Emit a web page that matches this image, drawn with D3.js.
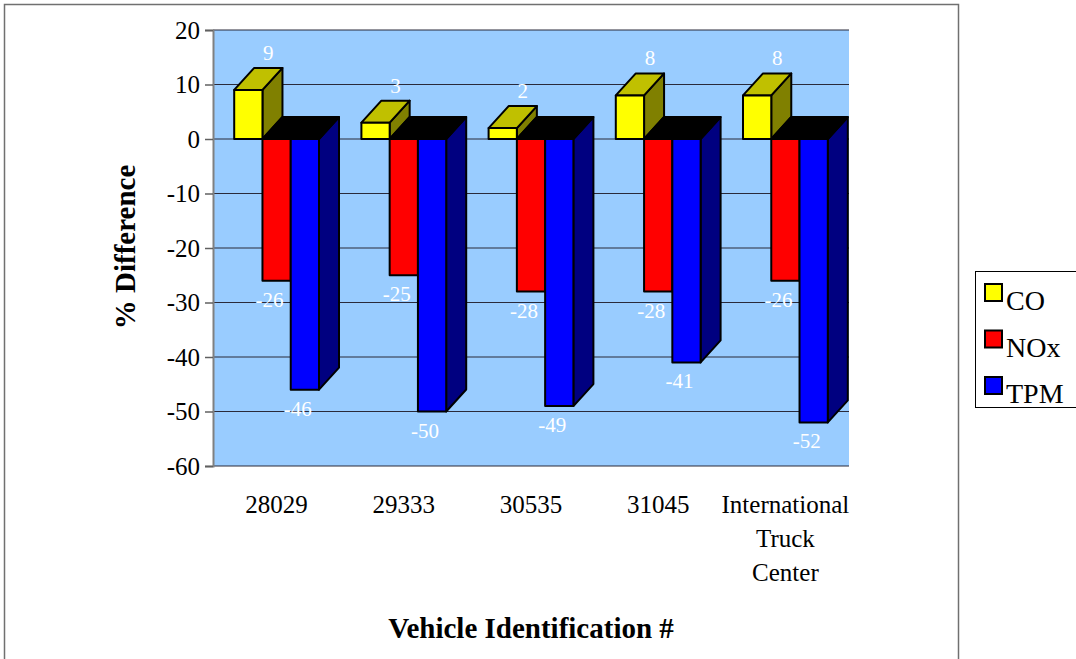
<!DOCTYPE html>
<html>
<head>
<meta charset="utf-8">
<script src="https://cdn.jsdelivr.net/npm/d3@7"></script>
<style>
  html, body { margin: 0; padding: 0; background: #fff; }
  svg { display: block; }
  svg text { font-family: "Liberation Serif", "Times New Roman", serif; }
</style>
</head>
<body>
<svg id="chart" width="1076" height="659"></svg>
<script>
// Emission change per vehicle, % difference
const categories = ["28029", "29333", "30535", "31045", "International Truck Center"];
const seriesNames = ["CO", "NOx", "TPM"];
const coValues = [9, 3, 2, 8, 8];
const noxValues = [-26, -25, -28, -28, -26];
const tpmValues = [-46, -50, -49, -41, -52];
const yTicks = [20, 10, 0, -10, -20, -30, -40, -50, -60];

const seriesValues = [coValues, noxValues, tpmValues];
const faceColors = [
  { front: "#ffff00", top: "#c0c000", side: "#808000" },
  { front: "#ff0000", top: "#000000", side: "#800000" },
  { front: "#0000ff", top: "#000000", side: "#000080" }
];
const serif = '"Liberation Serif", "Times New Roman", serif';

const svg = d3.select("#chart");

// plot geometry
const plot = { left: 213, right: 849, top: 30, bottom: 466 };
const depthX = 20, depthY = 22;

const y = d3.scaleLinear().domain([-60, 20]).range([plot.bottom, plot.top]);
const x = d3.scaleBand().domain(categories).range([plot.left, plot.right]);
const bw = x.bandwidth();
const xs = d3.scaleBand().domain(seriesNames).range([bw / 6, bw * 5 / 6]);
const w = xs.bandwidth();

// outer chart frame
svg.append("rect")
  .attr("x", 4.5).attr("y", 4.5).attr("width", 954).attr("height", 680)
  .attr("fill", "none").attr("stroke", "#707070").attr("stroke-width", 1.5);

// back wall
svg.append("rect")
  .attr("x", plot.left).attr("y", plot.top)
  .attr("width", plot.right - plot.left).attr("height", plot.bottom - plot.top)
  .attr("fill", "#99ccff");

// gridlines
svg.append("g").selectAll("line").data(yTicks).join("line")
  .attr("x1", plot.left).attr("x2", plot.right)
  .attr("y1", d => y(d)).attr("y2", d => y(d))
  .attr("stroke", "#2a2a3a").attr("stroke-width", 1.2);

// value axis (plain hyphen for negatives)
const yAxis = d3.axisLeft(y).tickValues(yTicks).tickSize(8).tickPadding(5)
  .tickFormat(d => String(d));
const gy = svg.append("g").attr("transform", `translate(${plot.left},0)`).call(yAxis);
gy.attr("font-family", null).attr("font-size", null);
gy.select(".domain").attr("stroke", "#808080").attr("stroke-width", 2);
gy.selectAll(".tick line").attr("stroke", "#606060").attr("stroke-width", 1.5);
gy.selectAll(".tick text")
  .style("font-family", serif)
  .style("font-size", "25px").attr("fill", "#000");

// 3D columns
const bars = svg.append("g");
const pts = p => p.map(q => q.join(",")).join(" ");
categories.forEach((cat, i) => {
  seriesNames.forEach((s, j) => {
    const v = seriesValues[j][i];
    const x0 = x(cat) + xs(s), x1 = x0 + w;
    const y0 = y(0), yv = y(v);
    const yTop = Math.min(y0, yv), yBot = Math.max(y0, yv);
    const c = faceColors[j];
    const g = bars.append("g").attr("stroke", "#000").attr("stroke-width", 2)
      .attr("stroke-linejoin", "round");
    // side face
    g.append("polygon").attr("fill", c.side)
      .attr("points", pts([[x1, yTop], [x1 + depthX, yTop - depthY], [x1 + depthX, yBot - depthY], [x1, yBot]]));
    // top face
    g.append("polygon").attr("fill", c.top)
      .attr("points", pts([[x0, yTop], [x0 + depthX, yTop - depthY], [x1 + depthX, yTop - depthY], [x1, yTop]]));
    // front face
    g.append("rect").attr("fill", c.front)
      .attr("x", x0).attr("y", yTop).attr("width", w).attr("height", yBot - yTop);
  });
});

// data labels
const labels = svg.append("g")
  .style("font-size", "21px")
  .attr("fill", "#ffffff").attr("text-anchor", "middle");
categories.forEach((cat, i) => {
  seriesNames.forEach((s, j) => {
    const v = seriesValues[j][i];
    const cx = x(cat) + xs(s) + w / 2;
    labels.append("text")
      .attr("x", v >= 0 ? cx + depthX : cx - 7)
      .attr("y", v >= 0 ? y(v) - 30 : y(v) + 26)
      .text(String(v));
  });
});

// category labels
const catG = svg.append("g")
  .style("font-size", "25px")
  .attr("fill", "#000").attr("text-anchor", "middle");
categories.forEach(cat => {
  const t = catG.append("text").attr("x", x(cat) + bw / 2).attr("y", 513);
  cat.split(" ").forEach((word, k) => {
    t.append("tspan").attr("x", x(cat) + bw / 2).attr("dy", k === 0 ? 0 : 34).text(word);
  });
});

// axis titles
svg.append("text")
  .attr("x", 531).attr("y", 638).attr("text-anchor", "middle")
  .style("font-size", "29px").attr("font-weight", "bold")
  .text("Vehicle Identification #");
svg.append("text")
  .attr("transform", "translate(135,247) rotate(-90)").attr("text-anchor", "middle")
  .style("font-size", "29px").attr("font-weight", "bold")
  .text("% Difference");

// legend
const legend = svg.append("g");
legend.append("rect")
  .attr("x", 975.5).attr("y", 271.5).attr("width", 140).attr("height", 136)
  .attr("fill", "#fff").attr("stroke", "#000").attr("stroke-width", 1);
seriesNames.forEach((s, j) => {
  const yy = 284 + j * 46.5;
  legend.append("rect")
    .attr("x", 985).attr("y", yy).attr("width", 17).attr("height", 17)
    .attr("fill", faceColors[j].front).attr("stroke", "#000").attr("stroke-width", 2);
  legend.append("text")
    .attr("x", 1006).attr("y", yy + 26).style("font-size", "28px").attr("fill", "#000")
    .text(s);
});
</script>
</body>
</html>
